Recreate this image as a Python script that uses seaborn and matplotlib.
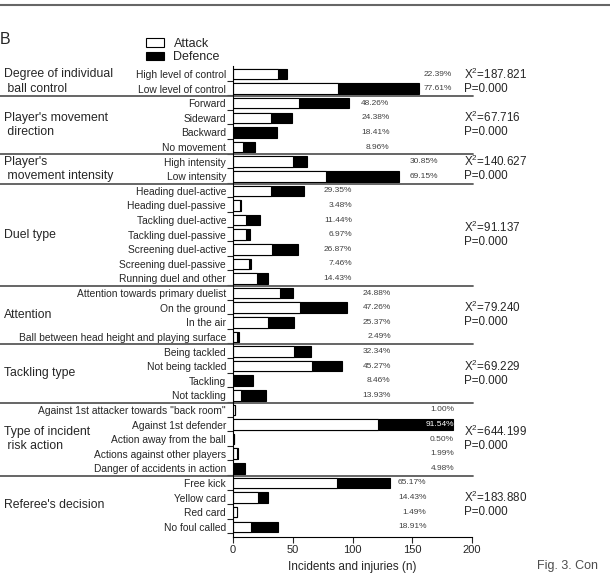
import numpy as np
import pandas as pd
import matplotlib
matplotlib.use('Agg')
import matplotlib.pyplot as plt
import seaborn as sns
from matplotlib.patches import Patch
from matplotlib.lines import Line2D

sns.set_style('white')
plt.rcParams['font.family'] = ['Liberation Sans', 'DejaVu Sans']

# Categories (top to bottom)
categories = [
    'High level of control', 'Low level of control',
    'Forward', 'Sideward', 'Backward', 'No movement',
    'High intensity', 'Low intensity',
    'Heading duel-active', 'Heading duel-passive', 'Tackling duel-active',
    'Tackling duel-passive', 'Screening duel-active', 'Screening duel-passive',
    'Running duel and other',
    'Attention towards primary duelist', 'On the ground', 'In the air',
    'Ball between head height and playing surface',
    'Being tackled', 'Not being tackled', 'Tackling', 'Not tackling',
    'Against 1st attacker towards "back room"', 'Against 1st defender',
    'Action away from the ball', 'Actions against other players',
    'Danger of accidents in action',
    'Free kick', 'Yellow card', 'Red card', 'No foul called',
]
attack = [38, 88,
          55, 32, 0, 8,
          50, 78,
          32, 6, 11, 11, 33, 13, 20,
          39, 56, 29, 3,
          51, 66, 1, 7,
          2, 121, 1, 3, 0,
          87, 21, 3, 15]
defence = [7, 68,
           42, 17, 37, 10,
           12, 61,
           27, 1, 12, 3, 21, 2, 9,
           11, 39, 22, 2,
           14, 25, 16, 21,
           0, 63, 0, 1, 10,
           44, 8, 0, 23]
percent_labels = ['22.39%', '77.61%',
                  '48.26%', '24.38%', '18.41%', '8.96%',
                  '30.85%', '69.15%',
                  '29.35%', '3.48%', '11.44%', '6.97%', '26.87%', '7.46%', '14.43%',
                  '24.88%', '47.26%', '25.37%', '2.49%',
                  '32.34%', '45.27%', '8.46%', '13.93%',
                  '1.00%', '91.54%', '0.50%', '1.99%', '4.98%',
                  '65.17%', '14.43%', '1.49%', '18.91%']

# Groups
group_names = ["Degree of individual\n ball control", "Player's movement\n direction",
               "Player's\n movement intensity", "Duel type", "Attention",
               "Tackling type", "Type of incident\n risk action", "Referee's decision"]
group_sizes = [2, 4, 2, 7, 4, 4, 5, 4]
chi_values = ['187.821', '67.716', '140.627', '91.137', '79.240', '69.229', '644.199', '183.880']
pct_x = [183, 131, 171.5, 99.5, 132, 132, 185, 162]

df = pd.DataFrame({'category': categories, 'attack': attack, 'defence': defence})
df['total'] = df['attack'] + df['defence']

W, H = 610, 574
fig = plt.figure(figsize=(W / 100, H / 100), dpi=100)
ax = fig.add_axes([233 / W, 1 - 537 / H, 239 / W, (537 - 66) / H])

sns.barplot(data=df, y='category', x='total', color='black', edgecolor='black',
            linewidth=0.8, width=0.72, orient='h', ax=ax, saturation=1)
sns.barplot(data=df, y='category', x='attack', color='white', edgecolor='black',
            linewidth=0.8, width=0.72, orient='h', ax=ax, saturation=1)

n = len(categories)
ax.set_xlim(0, 200)
ax.set_ylim(n - 0.3, -0.55)
ax.set_xticks([0, 50, 100, 150, 200])
ax.tick_params(axis='x', length=4, width=0.8, labelsize=8, pad=2, direction='out', bottom=True)
ax.set_yticks(range(n))
ax.set_yticklabels(categories, fontsize=7.4)
ax.tick_params(axis='y', length=0, pad=5)
ax.set_yticks(np.arange(n) + 0.45, minor=True)
ax.tick_params(axis='y', which='minor', length=4, width=0.8, left=True)
ax.set_ylabel('')
ax.set_xlabel('Incidents and injuries (n)', fontsize=8.5, labelpad=4)
sns.despine(ax=ax, top=True, right=True)
for s in ['left', 'bottom']:
    ax.spines[s].set_linewidth(0.8)
    ax.spines[s].set_color('black')

ytr = ax.get_yaxis_transform()
lab_x = (4 - 233) / 239
chi_x = (464 - 233) / 239
start = 0
for gi, (name, size) in enumerate(zip(group_names, group_sizes)):
    for r in range(start, start + size):
        col = 'white' if percent_labels[r] == '91.54%' else '0.25'
        ax.text(pct_x[gi], r, percent_labels[r], ha='right', va='center',
                fontsize=6, color=col)
    mid = start + (size - 1) / 2
    ax.text(lab_x, mid, name, transform=ytr, ha='left', va='center',
            fontsize=8.8, linespacing=1.3, clip_on=False)
    ax.text(chi_x, mid - 0.5, '$\\mathregular{X^2}$=' + chi_values[gi], transform=ytr,
            ha='left', va='center', fontsize=8.4, clip_on=False)
    ax.text(chi_x, mid + 0.5, 'P=0.000', transform=ytr,
            ha='left', va='center', fontsize=8.4, clip_on=False)
    end = start + size
    if end < n:
        ax.plot([-0.975, 1.005], [end - 0.5, end - 0.5], transform=ytr,
                color='0.35', lw=1.3, clip_on=False)
    start = end

handles = [Patch(facecolor='white', edgecolor='black', linewidth=0.8),
           Patch(facecolor='black', edgecolor='black', linewidth=0.8)]
fig.legend(handles, ['Attack', 'Defence'], loc='upper left',
           bbox_to_anchor=(141 / W, 1 - 33 / H), frameon=False, fontsize=9,
           handlelength=1.4, handleheight=0.7, labelspacing=0.1,
           handletextpad=0.8, borderaxespad=0)

fig.text(0 / W, 1 - 40 / H, 'B', fontsize=11.5, ha='left', va='center')
fig.add_artist(Line2D([0, 1], [1 - 5 / H, 1 - 5 / H], color='0.4', lw=1.5))
fig.text(537 / W, 1 - 566 / H, 'Fig. 3. Con', fontsize=9, color='0.3',
         ha='left', va='center')

fig.savefig('out.png', dpi=100)
